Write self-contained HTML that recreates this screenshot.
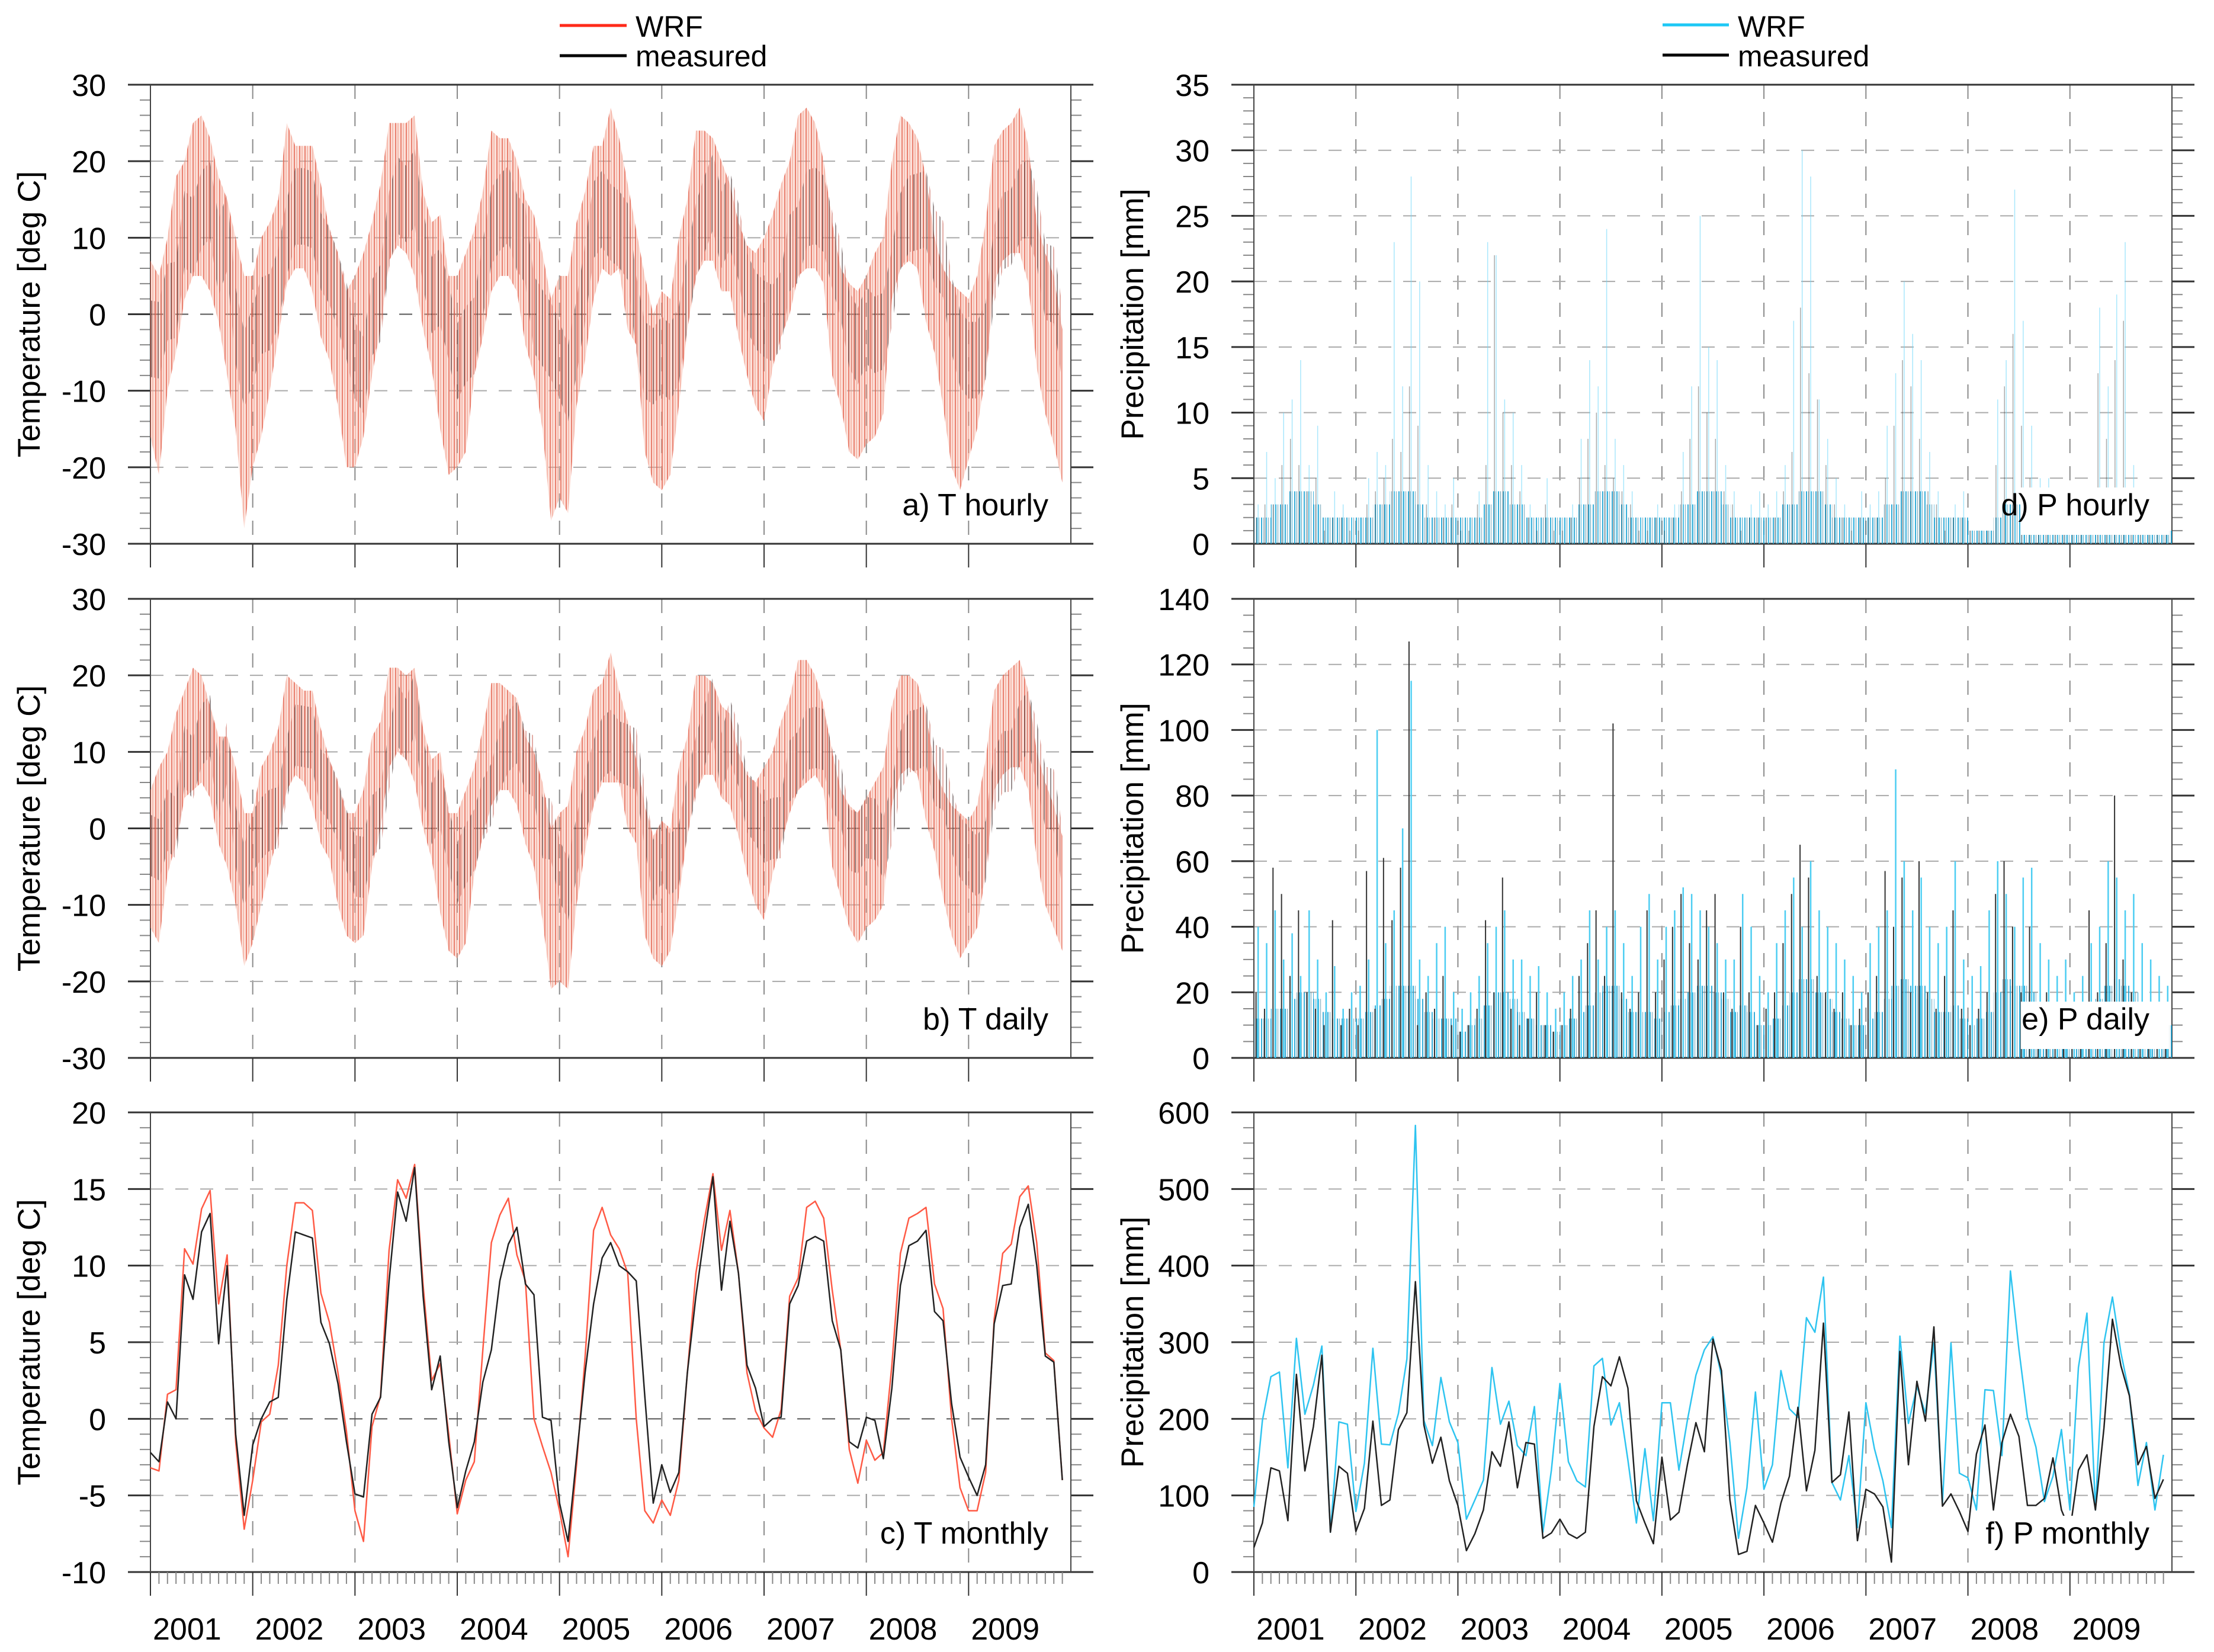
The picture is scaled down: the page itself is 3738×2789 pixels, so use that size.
<!DOCTYPE html>
<html><head><meta charset="utf-8"><style>
html,body{margin:0;padding:0;background:#fff}
svg{display:block;font-family:"Liberation Sans",sans-serif}
</style></head><body>
<svg id="chart" width="3738" height="2789" viewBox="0 0 3738 2789" xmlns="http://www.w3.org/2000/svg">
<defs>
<pattern id="redStripe" width="9" height="40" patternUnits="userSpaceOnUse">
<rect width="9" height="40" fill="rgba(245,170,150,0.35)"/>
<line x1="2" y1="0" x2="2" y2="40" stroke="rgba(225,95,75,0.75)" stroke-width="2"/>
<line x1="6" y1="0" x2="6" y2="40" stroke="rgba(240,140,120,0.6)" stroke-width="1.5"/>
</pattern>
<pattern id="darkStripe" width="11" height="40" patternUnits="userSpaceOnUse">
<line x1="3" y1="0" x2="3" y2="40" stroke="rgba(70,50,50,0.55)" stroke-width="2"/>
<line x1="8" y1="0" x2="8" y2="40" stroke="rgba(200,90,75,0.5)" stroke-width="2"/>
</pattern>
<pattern id="blueStripe" width="8" height="40" patternUnits="userSpaceOnUse">
<line x1="2" y1="0" x2="2" y2="40" stroke="rgba(20,160,210,0.85)" stroke-width="2"/>
<line x1="5.5" y1="0" x2="5.5" y2="40" stroke="rgba(40,120,150,0.5)" stroke-width="1.5"/>
</pattern>
</defs>
<rect width="3738" height="2789" fill="#fff"/>
<g>
<line x1="945" y1="43" x2="1058" y2="43" stroke="#ff2a1a" stroke-width="5"/>
<text x="1073" y="62" font-size="50">WRF</text>
<line x1="945" y1="94" x2="1058" y2="94" stroke="#000" stroke-width="5"/>
<text x="1073" y="112" font-size="50">measured</text>
</g>
<g>
<line x1="2807" y1="42" x2="2919" y2="42" stroke="#1ec8f5" stroke-width="5"/>
<text x="2934" y="62" font-size="50">WRF</text>
<line x1="2807" y1="93" x2="2919" y2="93" stroke="#000" stroke-width="5"/>
<text x="2934" y="112" font-size="50">measured</text>
</g>
</svg>
<script>
const years = ["2001","2002","2003","2004","2005","2006","2007","2008","2009"];
const tMonthlyObs = [-2.2,-2.8,1.1,0,9.4,7.8,12.2,13.4,4.9,10,-1,-6.3,
 -1.7,0,1.1,1.4,7.8,12.2,12,11.8,6.3,4.9,2.3,-1.5,
 -4.9,-5.1,0.3,1.4,9,14.8,12.9,16.4,8,1.9,4.1,-1.5,
 -5.8,-3.4,-1.5,2.4,4.5,9,11.4,12.5,8.8,8.1,0.1,-0.1,
 -5.5,-8,-2.5,3,7.5,10.5,11.5,10,9.6,9,1.5,-5.5,
 -3,-4.8,-3.5,3,8,12,15.8,8.4,12.9,9.5,3.5,2,
 -0.5,0,0.1,7.5,8.7,11.6,11.9,11.6,6.4,4.5,-1.5,-1.9,
 0.1,-0.1,-2.6,2,8.7,11.3,11.6,12.3,7,6.4,1,-2.5,
 -3.8,-5,-3,6.2,8.7,8.8,12.5,14,10,4.1,3.7,-4];
const tMonthlyWrf = [-3.2,-3.4,1.6,1.9,11.1,10.1,13.7,14.9,7.5,10.7,-1.5,-7.2,
 -4,-0.2,0.3,3.5,10,14.1,14.1,13.6,8.2,6.3,3,-0.8,
 -6,-8,-0.5,1.5,11,15.6,14.4,16.6,8.7,2.5,3.6,-1,
 -6.2,-4,-2.8,4.5,11.5,13.3,14.4,10.7,9,0,-1.8,-3.5,
 -6,-9,-3,4,12.3,13.8,12,11.1,9.5,0,-6,-6.8,
 -5.3,-6.3,-4,3,9.5,13,16,11,13.6,9.5,3,0.5,
 -0.6,-1.2,0.6,8,9.2,13.8,14.2,13.1,8.4,4.5,-2,-4.2,
 -1.4,-2.7,-2.2,3.5,10.8,13.1,13.4,13.8,8.8,7.2,0,-4.5,
 -6,-6,-3.5,6.5,10.8,11.4,14.5,15.2,11.5,4.3,3.8,-4];
const tHourlyMax = [7,5,10,18,20,25,26,23,18,15,10,5, 5,10,12,15,25,22,22,22,17,11,8,3,
 5,8,12,17,25,25,25,26,16,12,13,5, 5,8,11,16,24,23,23,20,15,13,8,2,
 5,5,12,16,22,22,27,23,17,11,5,0, 3,2,10,15,24,24,23,20,17,12,9,8,
 10,13,17,20,26,27,25,20,12,6,4,3, 5,8,10,20,26,25,23,18,10,6,4,3,
 2,5,12,22,24,25,27,22,12,8,5,-2];
const tHourlyMin = [-16,-21,-10,-5,2,5,5,3,-1,-8,-15,-28, -20,-16,-10,-3,4,6,6,3,-3,-6,-12,-20,
 -20,-16,-8,-2,7,9,8,5,-2,-7,-15,-21, -20,-18,-8,-3,3,5,5,3,-4,-8,-15,-27,
 -24,-26,-12,-6,2,6,5,6,-2,-4,-18,-22, -23,-21,-12,-2,5,7,7,3,3,-3,-8,-12,
 -14,-7,-3,0,5,6,6,4,-8,-12,-18,-19, -17,-16,-13,2,6,7,6,-1,-5,-12,-20,-23,
 -19,-15,-8,4,7,8,8,4,-7,-13,-17,-22];
const tDailyMax = [5,8,10,15,18,21,20,16,12,12,8,2, 2,8,10,13,20,19,18,18,13,9,6,2,
 2,5,12,14,21,21,20,21,13,9,10,2, 2,5,8,13,19,19,18,17,12,10,6,0,
 2,3,10,13,18,19,23,18,14,9,3,-1, 1,0,8,12,20,20,19,16,15,10,7,6,
 8,10,14,17,22,22,20,16,10,5,3,2, 4,6,8,16,20,20,19,15,8,5,3,2,
 1,3,9,18,20,21,22,18,10,6,3,-1];
const tDailyMin = [-13,-15,-6,-2,4,5,6,4,-2,-5,-10,-18, -15,-10,-5,-1,5,7,6,3,-2,-4,-10,-14,
 -15,-14,-5,0,8,10,9,6,0,-4,-11,-16, -17,-15,-6,-1,3,5,5,3,-2,-5,-12,-21,
 -20,-21,-10,-3,3,6,6,6,0,-2,-14,-17, -18,-16,-9,-1,5,7,7,4,3,-1,-6,-10,
 -12,-6,-2,2,5,6,7,5,-5,-9,-13,-15, -13,-12,-10,3,7,8,7,1,-3,-9,-14,-17,
 -15,-13,-6,5,7,8,8,5,-4,-10,-13,-16];
const pHourlyWrfMax = [3,7,5,10,11,14,6,9,2,4,3,2, 2,5,7,6,23,12,28,20,6,4,3,5,
 1,2,4,23,22,11,10,6,3,2,5,1, 2,3,8,14,12,24,8,6,4,2,2,3,
 2,3,7,12,25,15,14,6,4,2,3,4, 3,4,6,17,30,28,11,8,5,3,2,4,
 3,4,9,13,20,16,14,7,4,2,3,4, 1,1,1,11,14,27,17,9,5,5,1,2,
 1,1,1,18,12,19,23,6,1,1,1,1];
const pHourlyObsMax = [2,3,3,6,8,6,4,5,1,2,2,1, 1,3,4,5,8,7,12,9,3,2,2,3,
 1,1,3,6,22,10,6,4,2,1,3,1, 1,2,5,8,10,6,5,4,3,1,1,2,
 1,2,4,8,12,10,8,4,3,1,2,2, 2,2,4,7,18,13,11,6,3,2,1,2,
 2,2,5,9,14,12,8,4,3,1,2,2, 1,1,1,6,12,16,9,5,3,2,1,1,
 1,1,1,13,8,14,17,4,1,1,1,1];
const pHourlyBase = [2,2,3,3,4,4,4,3,2,2,2,2, 2,2,3,3,4,4,4,3,2,2,2,2,
 2,2,2,3,4,4,3,3,2,2,2,2, 2,2,3,3,4,4,4,3,2,2,2,2,
 2,2,3,3,4,4,4,3,2,2,2,2, 2,2,3,3,4,4,4,3,2,2,2,2,
 2,2,3,3,4,4,4,3,2,2,2,2, 1,1,1,2,3,3,3,2,1,1,1,1,
 1,1,1,2,3,3,3,2,1,1,1,1];
const pDailyWrfMax = [40,35,45,30,38,25,45,30,20,28,15,20, 22,30,100,35,45,70,115,30,25,35,40,20,
 15,20,25,35,40,45,30,30,25,28,20,15, 20,25,30,45,30,40,45,35,25,40,50,30,
 40,45,52,50,45,40,35,30,30,50,40,25, 20,35,45,55,40,60,45,40,35,30,25,20,
 35,40,45,88,60,45,55,40,35,40,60,30, 25,28,45,60,50,40,55,58,35,30,25,30,
 20,25,35,40,60,55,45,50,35,30,25,22];
const pDailyObsMax = [20,15,58,50,25,45,20,15,10,42,10,15, 10,57,15,61,42,58,127,10,20,15,25,10,
 8,10,15,42,20,55,15,10,12,20,10,8, 10,15,25,35,45,25,102,20,15,20,45,20,
 30,40,50,35,30,45,50,20,15,40,20,10, 15,20,35,50,65,55,25,20,15,20,10,15,
 20,25,57,40,55,20,60,20,15,25,45,15, 10,15,20,50,60,40,20,40,15,20,10,10,
 10,15,45,20,35,80,30,20,15,10,10,10];
const pDailyBase = [12,12,15,15,18,20,20,18,14,12,12,12, 12,14,16,18,22,22,22,18,14,12,12,12,
 8,10,12,16,20,20,18,14,12,10,10,8, 10,12,14,16,20,22,22,18,14,14,14,12,
 14,16,18,20,22,22,20,18,14,16,14,10, 10,12,16,20,24,24,20,18,14,12,10,10,
 12,14,18,22,24,22,22,18,14,14,16,12, 10,12,14,20,24,22,22,20,14,12,10,10,
 10,10,14,18,22,24,22,20,14,12,10,10];
const pMonthlyObs = [32,64,136,132,67,258,132,190,283,52,138,129,
 53,83,197,87,94,186,208,379,192,142,176,119,
 87,28,50,81,157,138,196,110,169,167,44,51,
 69,50,44,52,190,255,243,281,240,93,64,37,
 150,68,78,140,195,157,304,263,94,23,27,87,
 64,39,90,125,215,106,159,325,117,127,209,41,
 108,102,85,13,288,140,249,197,320,86,102,79,
 53,154,192,81,169,206,177,87,87,96,149,81,
 54,133,153,81,188,330,269,230,140,164,96,121];
const pMonthlyWrf = [85,198,255,261,136,305,206,244,295,52,196,193,
 79,142,292,167,166,207,278,583,198,165,254,196,
 169,69,94,120,267,193,223,165,152,216,52,133,
 246,144,119,111,269,279,192,221,146,64,161,67,
 221,221,133,198,257,290,307,256,169,44,110,235,
 108,140,263,213,202,332,313,385,117,94,152,58,
 221,161,119,58,308,194,242,207,299,90,299,129,
 123,81,238,237,152,393,290,202,163,92,125,186,
 81,267,338,81,299,359,286,232,113,169,81,153];

const NS = "http://www.w3.org/2000/svg";
const svg = document.getElementById("chart");
const LX0 = 254, LX1 = 1808, RX0 = 2117, RX1 = 3667;
const ROWS = [[143, 918], [1011, 1786], [1878, 2654]];
const NMONTH = 108;
function mk(tag, attrs, parent) {
  const e = document.createElementNS(NS, tag);
  for (const k in attrs) e.setAttribute(k, attrs[k]);
  (parent || svg).appendChild(e);
  return e;
}
function xScale(x0, x1) { return i => x0 + i * (x1 - x0) / NMONTH; }
function yScale(y0, y1, vmin, vmax) { return v => y1 - (v - vmin) / (vmax - vmin) * (y1 - y0); }

function drawAxes(p) {
  const g = mk("g", {});
  
  
  const X = xScale(p.x0, p.x1), Y = yScale(p.y0, p.y1, p.vmin, p.vmax);
  for (let k = 1; k < 9; k++) {
    const x = X(k * 12);
    mk("line", {x1: x, y1: p.y0, x2: x, y2: p.y1, stroke: "#8a8a8a", "stroke-width": 2, "stroke-dasharray": "24,22"}, g);
  }
  for (let v = p.vmin; v <= p.vmax + 1e-9; v += p.minor) {
    const y = Y(v);
    const isMajor = Math.abs((v - p.vmin) / p.major - Math.round((v - p.vmin) / p.major)) < 1e-6;
    const len = isMajor ? 38 : 18;
    mk("line", {x1: p.x0 - len, y1: y, x2: p.x0, y2: y, stroke: isMajor ? "#333" : "#888", "stroke-width": isMajor ? 3 : 2}, g);
    mk("line", {x1: p.x1, y1: y, x2: p.x1 + len, y2: y, stroke: isMajor ? "#333" : "#888", "stroke-width": isMajor ? 3 : 2}, g);
    if (isMajor) {
      if (v > p.vmin + 1e-9 && v < p.vmax - 1e-9) {
        mk("line", {x1: p.x0, y1: y, x2: p.x1, y2: y, stroke: v === 0 ? "#555" : "#aaa", "stroke-width": 2, "stroke-dasharray": "22,20"}, g);
      }
      const t = mk("text", {x: p.x0 - 75, y: y + 19, "font-size": 52, "text-anchor": "end"}, g);
      t.textContent = String(Math.round(v));
      
      
    }
  }
  mk("line", {x1: p.x0 - 38, y1: p.y0, x2: p.x1 + 38, y2: p.y0, stroke: "#333", "stroke-width": 3}, g);
  mk("line", {x1: p.x0 - 38, y1: p.y1, x2: p.x1 + 38, y2: p.y1, stroke: "#333", "stroke-width": 3}, g);
  mk("line", {x1: p.x0, y1: p.y0, x2: p.x0, y2: p.y1, stroke: "#444", "stroke-width": 2}, g);
  mk("line", {x1: p.x1, y1: p.y0, x2: p.x1, y2: p.y1, stroke: "#444", "stroke-width": 2}, g);
  for (let k = 0; k <= 8; k++) {
    const x = X(k * 12);
    mk("line", {x1: x, y1: p.y1, x2: x, y2: p.y1 + 40, stroke: "#333", "stroke-width": 2}, g);
  }
  if (p.monthTicks) {
    for (let i = 0; i < NMONTH; i++) {
      if (i % 12 === 0) continue;
      const x = X(i);
      mk("line", {x1: x, y1: p.y1, x2: x, y2: p.y1 + 20, stroke: "#888", "stroke-width": 2}, g);
    }
    years.forEach((yr, k) => {
      const t = mk("text", {x: X(k * 12) + 4, y: p.y1 + 114, "font-size": 52}, g);
      t.textContent = yr;
      
      
    });
  }
  if (p.ytitle) {
    const cx = p.x0 - 206, cy = (p.y0 + p.y1) / 2;
    const t = mk("text", {x: cx, y: cy, "font-size": 53, "text-anchor": "middle", transform: `rotate(-90 ${cx} ${cy}) translate(0 19)`}, g);
    t.textContent = p.ytitle;
    
    
  }
  return {X, Y};
}
function panelLabel(p, txt, box) {
  if (box) mk("rect", {x: p.x1 - 255, y: p.y1 - 95, width: 250, height: 80, fill: "#fff"});
  const t = mk("text", {x: p.x1 - 38, y: p.y1 - 48, "font-size": 52, "text-anchor": "end"});
  t.textContent = txt;
  
  
}
function polyline(arr, X, Y, color, w, name) {
  const pts = arr.map((v, i) => X(i).toFixed(1) + "," + Y(v).toFixed(1)).join(" ");
  const e = mk("polyline", {points: pts, fill: "none", stroke: color, "stroke-width": w, "stroke-linejoin": "round"});
  
  
  return e;
}
function band(maxA, minA, X, Y, fill, name) {
  let pts = [];
  maxA.forEach((v, i) => pts.push(X(i).toFixed(1) + "," + Y(v).toFixed(1)));
  for (let i = minA.length - 1; i >= 0; i--) pts.push(X(i).toFixed(1) + "," + Y(minA[i]).toFixed(1));
  const e = mk("polygon", {points: pts.join(" "), fill: fill, stroke: "none"});
  
  
}
function spikes(arr, X, Y, color, w, name, off) {
  const g = mk("g", {});
  
  
  arr.forEach((v, i) => {
    const x = X(i + off);
    const l = mk("line", {x1: x, y1: Y(0), x2: x, y2: Y(v), stroke: color, "stroke-width": w}, g);
    
  });
}
function baseBars(arr, X, Y, color, name) {
  const g = mk("g", {});
  
  
  arr.forEach((v, i) => {
    const r = mk("rect", {x: X(i), y: Y(v), width: X(i + 1) - X(i) + 0.5, height: Y(0) - Y(v), fill: color}, g);
    
  });
}

// panel a
{
  const p = {name: "t-hourly", x0: LX0, x1: LX1, y0: ROWS[0][0], y1: ROWS[0][1], vmin: -30, vmax: 30, major: 10, minor: 2, ytitle: "Temperature [deg C]"};
  const {X, Y} = drawAxes(p);
  band(tHourlyMax, tHourlyMin, X, Y, "url(#redStripe)", "t-hourly-wrf-band");
  band(tMonthlyWrf.map(v => v + 5), tMonthlyWrf.map(v => v - 5), X, Y, "url(#darkStripe)", "t-hourly-measured-core");
  panelLabel(p, "a) T hourly", false);
}
// panel b
{
  const p = {name: "t-daily", x0: LX0, x1: LX1, y0: ROWS[1][0], y1: ROWS[1][1], vmin: -30, vmax: 30, major: 10, minor: 2, ytitle: "Temperature [deg C]"};
  const {X, Y} = drawAxes(p);
  band(tDailyMax, tDailyMin, X, Y, "url(#redStripe)", "t-daily-wrf-band");
  band(tMonthlyObs.map(v => v + 4), tMonthlyObs.map(v => v - 4), X, Y, "url(#darkStripe)", "t-daily-measured-core");
  panelLabel(p, "b) T daily", false);
}
// panel c
{
  const p = {name: "t-monthly", x0: LX0, x1: LX1, y0: ROWS[2][0], y1: ROWS[2][1], vmin: -10, vmax: 20, major: 5, minor: 1, ytitle: "Temperature [deg C]", monthTicks: true};
  const {X, Y} = drawAxes(p);
  polyline(tMonthlyWrf, X, Y, "#ff5a45", 2.5, "t-monthly-wrf-line");
  polyline(tMonthlyObs, X, Y, "#222", 2.5, "t-monthly-measured-line");
  panelLabel(p, "c) T monthly", false);
}
// panel d
{
  const p = {name: "p-hourly", x0: RX0, x1: RX1, y0: ROWS[0][0], y1: ROWS[0][1], vmin: 0, vmax: 35, major: 5, minor: 1, ytitle: "Precipitation [mm]"};
  const {X, Y} = drawAxes(p);
  baseBars(pHourlyBase, X, Y, "url(#blueStripe)", "p-hourly-base");
  spikes(pHourlyWrfMax, X, Y, "rgba(110,215,250,0.6)", 1.5, "p-hourly-wrf-spikes", 0.5);
  spikes(pHourlyObsMax, X, Y, "rgba(40,40,40,0.4)", 1.5, "p-hourly-measured-spikes", 0.3);
  panelLabel(p, "d) P hourly", true);
}
// panel e
{
  const p = {name: "p-daily", x0: RX0, x1: RX1, y0: ROWS[1][0], y1: ROWS[1][1], vmin: 0, vmax: 140, major: 20, minor: 5, ytitle: "Precipitation [mm]"};
  const {X, Y} = drawAxes(p);
  baseBars(pDailyBase, X, Y, "url(#blueStripe)", "p-daily-base");
  spikes(pDailyWrfMax, X, Y, "#4ccdf2", 2.5, "p-daily-wrf-spikes", 0.5);
  spikes(pDailyObsMax, X, Y, "#333", 2, "p-daily-measured-spikes", 0.25);
  panelLabel(p, "e) P daily", true);
}
// panel f
{
  const p = {name: "p-monthly", x0: RX0, x1: RX1, y0: ROWS[2][0], y1: ROWS[2][1], vmin: 0, vmax: 600, major: 100, minor: 20, ytitle: "Precipitation [mm]", monthTicks: true};
  const {X, Y} = drawAxes(p);
  polyline(pMonthlyWrf, X, Y, "#2ec4f0", 2.5, "p-monthly-wrf-line");
  polyline(pMonthlyObs, X, Y, "#222", 2.5, "p-monthly-measured-line");
  panelLabel(p, "f) P monthly", true);
}
</script>
</body></html>
